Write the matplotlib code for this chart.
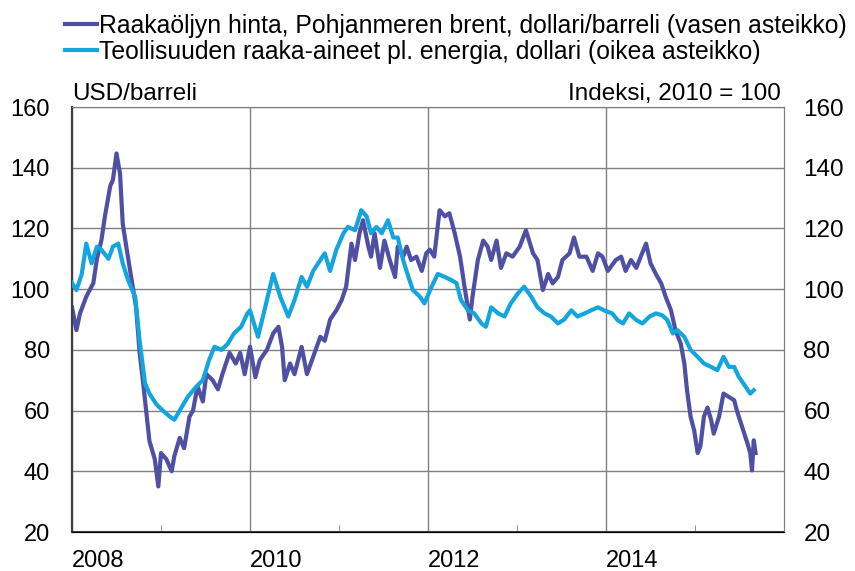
import matplotlib
matplotlib.use("Agg")
import matplotlib.pyplot as plt
from matplotlib.ticker import MultipleLocator, FixedLocator

plt.rcParams["font.family"] = ["Liberation Sans", "DejaVu Sans"]

# Brent crude, USD/barrel (left axis)
brent_t = [2008.00, 2008.05, 2008.09, 2008.16, 2008.24, 2008.28, 2008.33, 2008.37, 2008.43, 2008.46,
           2008.50, 2008.54, 2008.57, 2008.61, 2008.67, 2008.72, 2008.76, 2008.80, 2008.84, 2008.87,
           2008.93, 2008.97, 2009.00, 2009.06, 2009.12, 2009.15, 2009.21, 2009.26, 2009.32, 2009.36,
           2009.41, 2009.47, 2009.51, 2009.58, 2009.64, 2009.69, 2009.77, 2009.84, 2009.89, 2009.94,
           2010.00, 2010.06, 2010.11, 2010.19, 2010.26, 2010.32, 2010.36, 2010.39, 2010.45, 2010.50,
           2010.58, 2010.64, 2010.71, 2010.79, 2010.84, 2010.90, 2010.97, 2011.03, 2011.08, 2011.14,
           2011.18, 2011.23, 2011.27, 2011.33, 2011.36, 2011.40, 2011.46, 2011.51, 2011.57, 2011.63,
           2011.66, 2011.72, 2011.76, 2011.81, 2011.87, 2011.93, 2011.98, 2012.02, 2012.07, 2012.13,
           2012.19, 2012.24, 2012.30, 2012.36, 2012.41, 2012.47, 2012.50, 2012.56, 2012.62, 2012.67,
           2012.71, 2012.77, 2012.82, 2012.88, 2012.95, 2013.03, 2013.10, 2013.18, 2013.23, 2013.29,
           2013.35, 2013.40, 2013.46, 2013.51, 2013.59, 2013.64, 2013.70, 2013.78, 2013.85, 2013.91,
           2013.96, 2014.02, 2014.11, 2014.17, 2014.22, 2014.28, 2014.34, 2014.39, 2014.45, 2014.50,
           2014.56, 2014.62, 2014.67, 2014.73, 2014.78, 2014.84, 2014.88, 2014.91, 2014.95, 2014.99,
           2015.03, 2015.06, 2015.10, 2015.14, 2015.18, 2015.21, 2015.27, 2015.32, 2015.38, 2015.44,
           2015.47, 2015.53, 2015.59, 2015.62, 2015.64, 2015.66, 2015.68]
brent = [94, 86.5, 92, 97.5, 102, 110, 116, 124, 134, 136,
         144.7, 138, 121.6, 114, 103, 94, 79, 69, 58, 50,
         44, 35, 46, 44, 40, 45, 51, 47.6, 58, 60,
         68, 63, 72, 70, 67, 72, 79, 75.5, 79, 72,
         81, 71, 76.6, 80, 85.4, 87.6, 81, 70, 75.5, 72,
         81, 72, 77.7, 84.3, 83, 90, 93, 96.4, 100.8, 115,
         109.6, 118.4, 122.7, 114, 110.7, 118.4, 107, 116, 109.6, 104,
         114, 110.7, 114, 109.6, 110.7, 106, 111.8, 113, 110.7, 126,
         124, 125, 118.4, 110.7, 100.8, 90, 97.5, 109.6, 116, 114,
         109.6, 116, 107, 111.8, 110.7, 114, 119.4, 111.8, 109.6, 99.7,
         105, 101.9, 104, 109.6, 111.8, 117, 110.7, 110.7, 106, 111.8,
         110.7, 106, 109.6, 110.7, 106, 109.6, 107, 110.7, 115, 108.5,
         105, 101.9, 97.5, 93, 86.5, 82, 75.5, 66.7, 58, 53.5,
         46, 48.2, 58, 61, 57, 52.4, 58, 65.6, 64.5, 63.4,
         60, 54.6, 49.1, 46, 40.3, 50.2, 46]

# Industrial raw materials excl. energy, index 2010 = 100 (right axis)
metals_t = [2008.00, 2008.05, 2008.11, 2008.16, 2008.22, 2008.28, 2008.33, 2008.41, 2008.46, 2008.52,
            2008.57, 2008.63, 2008.71, 2008.76, 2008.82, 2008.87, 2008.95, 2009.02, 2009.10, 2009.15,
            2009.23, 2009.30, 2009.40, 2009.47, 2009.54, 2009.60, 2009.68, 2009.75, 2009.82, 2009.90,
            2009.97, 2010.00, 2010.09, 2010.17, 2010.26, 2010.34, 2010.43, 2010.50, 2010.58, 2010.64,
            2010.71, 2010.79, 2010.84, 2010.90, 2010.97, 2011.05, 2011.10, 2011.18, 2011.25, 2011.31,
            2011.36, 2011.42, 2011.48, 2011.55, 2011.61, 2011.66, 2011.72, 2011.78, 2011.83, 2011.91,
            2011.96, 2012.04, 2012.11, 2012.19, 2012.26, 2012.32, 2012.37, 2012.45, 2012.52, 2012.60,
            2012.65, 2012.71, 2012.79, 2012.86, 2012.93, 2013.01, 2013.08, 2013.16, 2013.23, 2013.31,
            2013.38, 2013.46, 2013.53, 2013.61, 2013.68, 2013.76, 2013.83, 2013.91, 2013.98, 2014.07,
            2014.13, 2014.19, 2014.26, 2014.34, 2014.41, 2014.49, 2014.56, 2014.63, 2014.69, 2014.75,
            2014.80, 2014.88, 2014.95, 2015.03, 2015.10, 2015.18, 2015.25, 2015.32, 2015.38, 2015.44,
            2015.49, 2015.57, 2015.62, 2015.66]
metals = [102, 99.7, 105, 115, 108.5, 114, 113, 110, 114, 115,
          108.5, 103, 97.5, 83, 69, 65.6, 62, 60, 58, 57,
          61, 64.5, 68, 70, 76.6, 81, 80, 82, 85.4, 87.6,
          92, 93, 84.3, 94, 105, 97.5, 91, 96.4, 104, 100.8,
          106, 109.6, 111.8, 106, 113, 118.4, 120.5, 119.4, 126, 124,
          118.4, 120.5, 118.4, 122.7, 117, 117, 109.6, 104, 99.7, 97.5,
          95.3, 100.8, 105, 104, 103, 102, 96.4, 93, 92, 88.7,
          87.6, 94, 92, 91, 95.3, 98.6, 100.8, 97.5, 94, 92,
          91, 88.7, 90, 93, 91, 92, 93, 94, 93, 92,
          89.8, 88.7, 92, 89.8, 88.7, 91, 92, 91.4, 89.8, 85.4,
          86.5, 84.3, 80, 77.7, 75.5, 74.4, 73.3, 77.7, 74.4, 74.4,
          71.2, 67.8, 65.6, 66.7]

labels = ["Raakaöljyn hinta, Pohjanmeren brent, dollari/barreli (vasen asteikko)",
          "Teollisuuden raaka-aineet pl. energia, dollari (oikea asteikko)"]
year_ticks = [2008, 2010, 2012, 2014]

dark = "#4F4FA3"
cyan = "#13A5DD"

fig = plt.figure(figsize=(8.55, 5.71), dpi=100)
ax = fig.add_axes([0.0842, 0.0683, 0.8328, 0.7443])
ax2 = ax.twinx()

l1, = ax.plot(brent_t, brent, color=dark, lw=3, zorder=3)
l2, = ax2.plot(metals_t, metals, color=cyan, lw=3, zorder=3)

for a in (ax, ax2):
    a.set_ylim(20, 160)
    a.yaxis.set_major_locator(MultipleLocator(20))
ax.set_xlim(2008, 2016)
ax.xaxis.set_major_locator(FixedLocator(year_ticks))
ax.xaxis.set_minor_locator(FixedLocator([2009, 2011, 2013, 2015]))
ax.set_xticklabels([str(y) for y in year_ticks])
for lab in ax.get_xticklabels():
    lab.set_horizontalalignment("left")

ax.grid(True, which="major", color="#808080", lw=1.0)
ax.set_axisbelow(True)
ax.tick_params(axis="x", which="major", length=0, pad=13, labelsize=17)
ax.tick_params(axis="x", which="minor", length=5, direction="in", color="#808080")
ax.tick_params(axis="y", length=0, pad=16, labelsize=17)
ax2.tick_params(axis="y", length=0, pad=14, labelsize=17.5)

for side in ("left", "bottom"):
    ax.spines[side].set_color("#404040")
    ax.spines[side].set_linewidth(1.5)
for a in (ax, ax2):
    a.spines["top"].set_color("#808080")
    a.spines["right"].set_color("#808080")
    a.spines["left"].set_color("#404040")
    a.spines["left"].set_linewidth(1.5)

ax.text(0.0, 1.005, "USD/barreli", transform=ax.transAxes, ha="left", va="bottom", fontsize=17.5)
ax.text(0.996, 1.005, "Indeksi, 2010 = 100", transform=ax.transAxes, ha="right", va="bottom", fontsize=17.5)

fig.legend([l1, l2], labels, loc="upper left", bbox_to_anchor=(0.076, 0.976), frameon=False,
           fontsize=17.8, handlelength=1.3, handletextpad=0.08, labelspacing=0.08,
           borderaxespad=0, borderpad=0)

fig.savefig("out.png", dpi=100)
